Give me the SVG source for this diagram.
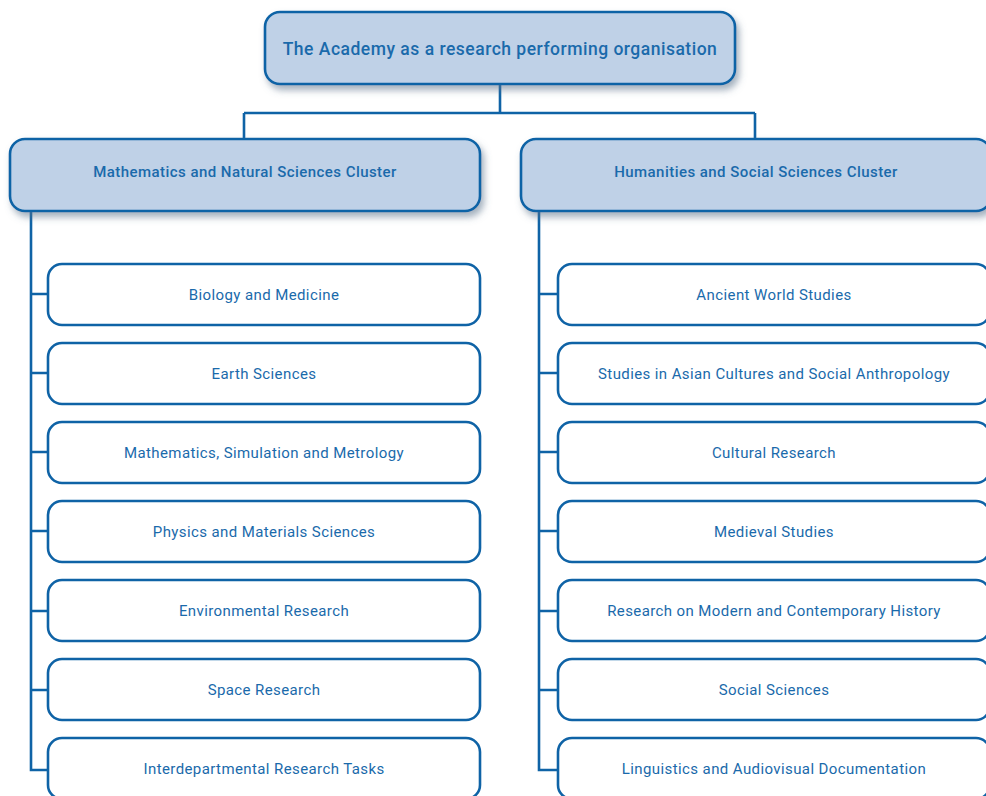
<svg xmlns="http://www.w3.org/2000/svg" width="986" height="796" viewBox="0 0 986 796">
<defs>
<filter id="sh" x="-10%" y="-20%" width="120%" height="160%">
<feDropShadow dx="3" dy="5" stdDeviation="3.5" flood-color="#5a6f88" flood-opacity="0.55"/>
</filter>
<style>
.hd{fill:#bfd1e7;stroke:#0f63a6;stroke-width:2.6;filter:url(#sh)}
.lf{fill:#ffffff;stroke:#0f63a6;stroke-width:2.6}
.cn{fill:none;stroke:#0f63a6;stroke-width:2.6}
text{font-family:Roboto,"Liberation Sans",sans-serif;fill:#1a6aab;text-anchor:middle;dominant-baseline:central}
.t0{font-size:17.5px;font-weight:500;letter-spacing:0.5px}
.t1{font-size:15px;font-weight:500;letter-spacing:0.45px}
.t2{font-size:15px;letter-spacing:0.4px}
</style>
</defs>
<g id="connectors">
<path class="cn" d="M500 84 V113 M244 113 H755 M244 113 V139 M755 113 V139"/>
<path class="cn" d="M31 211 V770 H48 M31 294 H48 M31 373 H48 M31 452 H48 M31 531 H48 M31 611 H48 M31 690 H48"/>
<path class="cn" d="M539 211 V770 H558 M539 294 H558 M539 373 H558 M539 452 H558 M539 531 H558 M539 611 H558 M539 690 H558"/>
</g>
<g id="root"><rect class="hd" x="265" y="12" width="470" height="72" rx="15"/><text class="t0" x="500" y="49">The Academy as a research performing organisation</text></g>
<g id="cluster-nat"><rect class="hd" x="10" y="139" width="470" height="72" rx="15"/><text class="t1" x="245" y="172">Mathematics and Natural Sciences Cluster</text></g>
<g id="cluster-hum"><rect class="hd" x="521" y="139" width="470" height="72" rx="15"/><text class="t1" x="756" y="172">Humanities and Social Sciences Cluster</text></g>
<g id="n1"><rect class="lf" x="48" y="264" width="432" height="61" rx="14"/><text class="t2" x="264" y="295">Biology and Medicine</text></g>
<g id="n2"><rect class="lf" x="48" y="343" width="432" height="61" rx="14"/><text class="t2" x="264" y="374">Earth Sciences</text></g>
<g id="n3"><rect class="lf" x="48" y="422" width="432" height="61" rx="14"/><text class="t2" x="264" y="453">Mathematics, Simulation and Metrology</text></g>
<g id="n4"><rect class="lf" x="48" y="501" width="432" height="61" rx="14"/><text class="t2" x="264" y="532">Physics and Materials Sciences</text></g>
<g id="n5"><rect class="lf" x="48" y="580" width="432" height="61" rx="14"/><text class="t2" x="264" y="611">Environmental Research</text></g>
<g id="n6"><rect class="lf" x="48" y="659" width="432" height="61" rx="14"/><text class="t2" x="264" y="690">Space Research</text></g>
<g id="n7"><rect class="lf" x="48" y="738" width="432" height="61" rx="14"/><text class="t2" x="264" y="769">Interdepartmental Research Tasks</text></g>
<g id="h1"><rect class="lf" x="558" y="264" width="432" height="61" rx="14"/><text class="t2" x="774" y="295">Ancient World Studies</text></g>
<g id="h2"><rect class="lf" x="558" y="343" width="432" height="61" rx="14"/><text class="t2" x="774" y="374">Studies in Asian Cultures and Social Anthropology</text></g>
<g id="h3"><rect class="lf" x="558" y="422" width="432" height="61" rx="14"/><text class="t2" x="774" y="453">Cultural Research</text></g>
<g id="h4"><rect class="lf" x="558" y="501" width="432" height="61" rx="14"/><text class="t2" x="774" y="532">Medieval Studies</text></g>
<g id="h5"><rect class="lf" x="558" y="580" width="432" height="61" rx="14"/><text class="t2" x="774" y="611">Research on Modern and Contemporary History</text></g>
<g id="h6"><rect class="lf" x="558" y="659" width="432" height="61" rx="14"/><text class="t2" x="774" y="690">Social Sciences</text></g>
<g id="h7"><rect class="lf" x="558" y="738" width="432" height="61" rx="14"/><text class="t2" x="774" y="769">Linguistics and Audiovisual Documentation</text></g>
</svg>
